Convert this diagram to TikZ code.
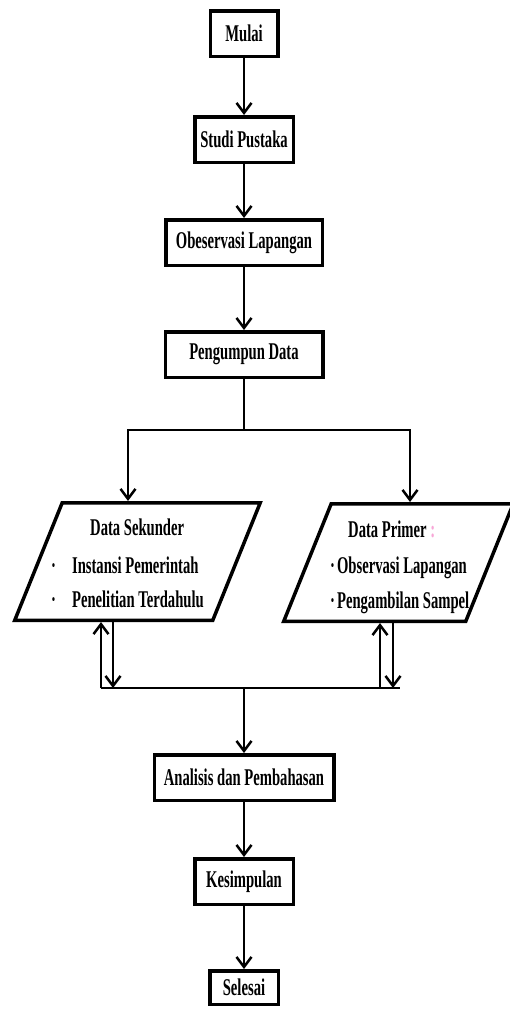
\documentclass[tikz,border=0pt]{standalone}
\usepackage{fontspec}
\setmainfont{Liberation Serif}
\newfontfamily\alurfont{Liberation Serif}[FakeStretch=0.61]
\usepackage{xcolor}
\usetikzlibrary{arrows.meta, positioning, shapes.geometric}

\begin{document}
\begin{tikzpicture}[
    x=1pt, y=-1pt,
    proses/.style={draw, line width=3.5pt, minimum height=45.5pt, inner sep=2pt,
                   font=\alurfont\bfseries\fontsize{24}{28}\selectfont},
    data/.style={draw, trapezium, trapezium left angle=68,
                 trapezium right angle=112, trapezium stretches body,
                 line width=3.5pt, inner xsep=0pt, inner ysep=58.75pt},
    isi/.style={anchor=base west, inner sep=0pt,
                font=\alurfont\bfseries\fontsize{24}{28}\selectfont},
    garis/.style={line width=2.5pt},
    panah/.style={garis, -{Straight Barb[length=10pt, width=15pt]}}
  ]
    \path[use as bounding box, fill=white] (0,0) rectangle (510,1009);

    % tahap awal
    \node[proses, minimum width=67.5pt] (mulai) at (244,33.5) {Mulai};
    \node[proses, minimum width=98.5pt, below=57pt of mulai] (studi)
      {Studi Pustaka};
    \node[proses, minimum width=156.5pt, below=54pt of studi] (observasi)
      {Obeservasi Lapangan};
    \node[proses, minimum width=157.5pt, below=63pt of observasi] (pengumpulan)
      {Pengumpun Data};

    % data sekunder dan primer
    \node[data, minimum width=245.5pt] (sekunder) at (137.5,561.5) {};
    \node[isi] (sekjudul) at (90,535) {Data Sekunder};
    \node[isi] (sek1) at (51,573)
      {\textperiodcentered\hspace{16pt}Instansi Pemerintah};
    \node[isi] (sek2) at (51,607)
      {\textperiodcentered\hspace{16pt}Penelitian Terdahulu};

    \node[data, minimum width=229.5pt] (primer) at (398.5,562.5) {};
    \node[isi] (prijudul) at (348,537)
      {Data Primer \textcolor{magenta!35}{:}};
    \node[isi] (pri1) at (330,573)
      {\textperiodcentered\hspace{2pt}Observasi Lapangan};
    \node[isi] (pri2) at (330,608)
      {\textperiodcentered\hspace{2pt}Pengambilan Sampel};

    % tahap akhir
    \node[proses, minimum width=179.5pt] (analisis) at (244,777.5)
      {Analisis dan Pembahasan};
    \node[proses, minimum width=98.5pt, below=55pt of analisis] (kesimpulan)
      {Kesimpulan};
    \node[proses, minimum width=68.5pt, minimum height=33.5pt,
          below=63pt of kesimpulan] (selesai) {Selesai};

    % titik cabang
    \coordinate[below=51pt of pengumpulan] (cabang);
    \coordinate (gabung) at (244,688);
    \coordinate (sekup) at ([xshift=-36.5pt]sekunder.south);
    \coordinate (sekdn) at ([xshift=-24.5pt]sekunder.south);
    \coordinate (priup) at ([xshift=-18.5pt]primer.south);
    \coordinate (pridn) at ([xshift=-5.5pt]primer.south);

    % panah
    \draw[panah] (mulai) -- (studi);
    \draw[panah] (studi) -- (observasi);
    \draw[panah] (observasi) -- (pengumpulan);
    \draw[garis] (pengumpulan) -- (cabang);
    \draw[panah] (cabang) -| ([xshift=-9.5pt]sekunder.north);
    \draw[panah] (cabang) -| ([xshift=11.5pt]primer.north);

    \draw[garis] (sekup |- gabung) -- ([xshift=7pt]pridn |- gabung);
    \draw[panah] (sekup |- gabung) -- (sekup);
    \draw[panah] (sekdn) -- (sekdn |- gabung);
    \draw[panah] (priup |- gabung) -- (priup);
    \draw[panah] (pridn) -- (pridn |- gabung);

    \draw[panah] (gabung) -- (analisis);
    \draw[panah] (analisis) -- (kesimpulan);
    \draw[panah] (kesimpulan) -- (selesai);
  \end{tikzpicture}
\end{document}
